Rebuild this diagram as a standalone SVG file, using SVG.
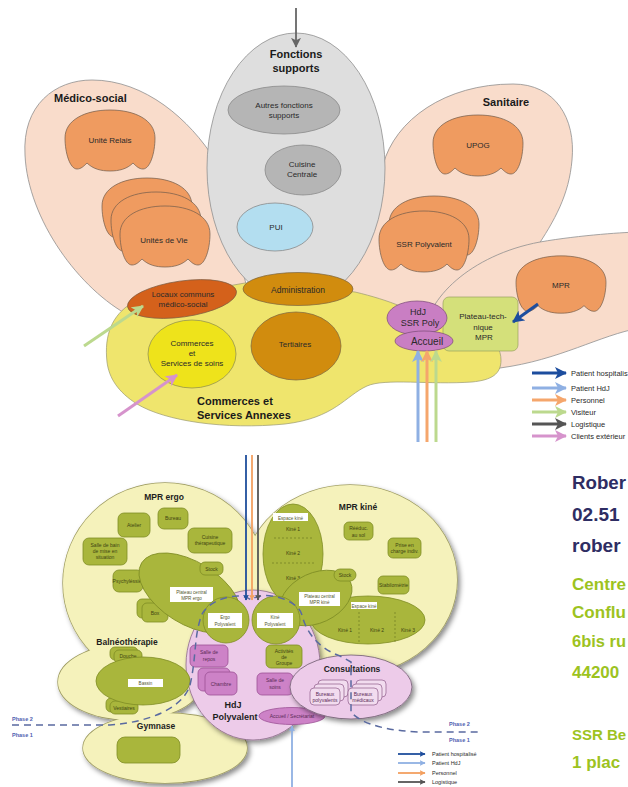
<svg xmlns="http://www.w3.org/2000/svg" width="628" height="787" viewBox="0 0 628 787">
<style>
text{font-family:"Liberation Sans",Arial,sans-serif}
.pe{fill:#f9dccb;stroke:#8f8f8f;stroke-width:.8}
.gr{fill:#dedede;stroke:#8f8f8f;stroke-width:.8}
.gd{fill:#b5b5b5;stroke:#8a8a8a;stroke-width:.8}
.lb{fill:#b3def0;stroke:#8a8a8a;stroke-width:.8}
.cl{fill:#ef9b60;stroke:#6f5a4a;stroke-width:.7}
.ru{fill:#d4611b;stroke:#7a5a40;stroke-width:.7}
.go{fill:#d18c0e;stroke:#7a6440;stroke-width:.7}
.ye{fill:#efe56d;stroke:#9a9a70;stroke-width:.7}
.by{fill:#eee31b;stroke:#8a8a50;stroke-width:.7}
.pu{fill:#c97ec3;stroke:#7a4a76;stroke-width:.7}
.pl{fill:#d4e07a;stroke:#9aa060;stroke-width:.7}
.h{font-weight:bold;font-size:11px;fill:#1a1a1a}
.s{font-size:8px;fill:#2a2a2a;text-anchor:middle}
.lg{font-size:7.5px;fill:#2a2a2a}
.a3{fill:none;stroke-width:3}
.a2{fill:none;stroke-width:1.8}
.pale{fill:#f5f2bb}
.paleS{fill:none;stroke:#9e9c62;stroke-width:1.4}
.ol{fill:#a9b63c;stroke:#7f8d25;stroke-width:.8}
.wl{fill:#ffffff}
.pk{fill:#edcbe9;stroke:#8d6a8a;stroke-width:.8}
.pkd{fill:#cd82c7;stroke:#9c5096;stroke-width:.8}
.bur{fill:#f2dcef;stroke:#9a6a96;stroke-width:.8}
.tt{font-size:5px;fill:#3f4512;text-anchor:middle}
.tw{font-size:4.6px;fill:#555a30;text-anchor:middle}
.tp{font-size:5px;fill:#5a2a55;text-anchor:middle}
.hb{font-weight:bold;font-size:8.5px;fill:#1e1e1e;text-anchor:middle}
.ph{font-weight:bold;font-size:5.5px;fill:#5060b0}
.nv{font-weight:bold;font-size:19px;fill:#2e2d63}
.gn{font-weight:bold;font-size:17px;fill:#9dc31f}
.dk{fill:none;stroke:#6f7d20;stroke-width:.7;stroke-dasharray:2 2}
</style>
<defs>
<path id="cloud" d="M-45,-3 C-45,-21 -25,-31 0,-31 C25,-31 45,-21 45,-3 C45,12 40,28 33,28 C29,28 26,25 23,22 C17,28 9,30 0,30 C-9,30 -17,28 -23,22 C-26,25 -29,28 -33,28 C-40,28 -45,12 -45,-3 Z"/>
<marker id="mDB" viewBox="0 0 12 12" refX="11" refY="6" markerWidth="12" markerHeight="12" markerUnits="userSpaceOnUse" orient="auto"><path d="M0,0 L12,6 L0,12 L3,6 Z" fill="#1c4d9e"/></marker>
<marker id="mLB" viewBox="0 0 12 12" refX="11" refY="6" markerWidth="12" markerHeight="12" markerUnits="userSpaceOnUse" orient="auto"><path d="M0,0 L12,6 L0,12 L3,6 Z" fill="#8fb0e3"/></marker>
<marker id="mOR" viewBox="0 0 12 12" refX="11" refY="6" markerWidth="12" markerHeight="12" markerUnits="userSpaceOnUse" orient="auto"><path d="M0,0 L12,6 L0,12 L3,6 Z" fill="#f5a66c"/></marker>
<marker id="mGN" viewBox="0 0 12 12" refX="11" refY="6" markerWidth="12" markerHeight="12" markerUnits="userSpaceOnUse" orient="auto"><path d="M0,0 L12,6 L0,12 L3,6 Z" fill="#bcd98e"/></marker>
<marker id="mGY" viewBox="0 0 12 12" refX="11" refY="6" markerWidth="12" markerHeight="12" markerUnits="userSpaceOnUse" orient="auto"><path d="M0,0 L12,6 L0,12 L3,6 Z" fill="#555555"/></marker>
<marker id="mPK" viewBox="0 0 12 12" refX="11" refY="6" markerWidth="12" markerHeight="12" markerUnits="userSpaceOnUse" orient="auto"><path d="M0,0 L12,6 L0,12 L3,6 Z" fill="#d693cc"/></marker>
<marker id="mTop" viewBox="0 0 12 12" refX="11" refY="6" markerWidth="10" markerHeight="10" markerUnits="userSpaceOnUse" orient="auto"><path d="M0,0 L12,6 L0,12 L3,6 Z" fill="#666666"/></marker>
<marker id="sDB" viewBox="0 0 10 10" refX="9" refY="5" markerWidth="6" markerHeight="6" markerUnits="userSpaceOnUse" orient="auto"><path d="M0,0 L10,5 L0,10 L2,5 Z" fill="#1f4e9c"/></marker>
<marker id="sLB" viewBox="0 0 10 10" refX="9" refY="5" markerWidth="6" markerHeight="6" markerUnits="userSpaceOnUse" orient="auto"><path d="M0,0 L10,5 L0,10 L2,5 Z" fill="#8fb0e3"/></marker>
<marker id="sOR" viewBox="0 0 10 10" refX="9" refY="5" markerWidth="6" markerHeight="6" markerUnits="userSpaceOnUse" orient="auto"><path d="M0,0 L10,5 L0,10 L2,5 Z" fill="#f3a060"/></marker>
<marker id="sGY" viewBox="0 0 10 10" refX="9" refY="5" markerWidth="6" markerHeight="6" markerUnits="userSpaceOnUse" orient="auto"><path d="M0,0 L10,5 L0,10 L2,5 Z" fill="#555555"/></marker>
<filter id="sh" x="-10%" y="-10%" width="125%" height="125%"><feDropShadow dx="2.5" dy="3" stdDeviation="2.5" flood-color="#000" flood-opacity="0.45"/></filter>
</defs>

<!-- ===== TOP DIAGRAM ===== -->
<g id="medico-social">
<path class="pe" d="M130,316 C80,290 28,220 25,155 C22,105 55,80 92,80 C145,80 190,120 215,160 L250,300 L160,312 Z"/>
<text class="h" x="54" y="102">Médico-social</text>
</g>
<g id="sanitaire">
<path class="pe" d="M383,165 C395,120 445,84 513,84 C555,84 576,118 572,160 C569,195 555,220 535,250 L440,320 L330,300 L340,200 Z"/>
<text class="h" x="506" y="106" text-anchor="middle">Sanitaire</text>
</g>
<g id="fonctions-supports">
<ellipse class="gr" cx="296" cy="168" rx="89" ry="135"/>
<text class="h" x="296" y="58" text-anchor="middle">Fonctions</text>
<text class="h" x="296" y="72" text-anchor="middle">supports</text>
</g>
<g id="autres-fonctions">
<ellipse class="gd" cx="284" cy="110" rx="56" ry="24"/>
<text class="s" x="284" y="108">Autres fonctions</text>
<text class="s" x="284" y="118">supports</text>
</g>
<g id="cuisine-centrale">
<ellipse class="gd" cx="303" cy="170" rx="38" ry="25"/>
<text class="s" x="302" y="167">Cuisine</text>
<text class="s" x="302" y="177">Centrale</text>
</g>
<g id="pui">
<ellipse class="lb" cx="275" cy="227" rx="38" ry="24"/>
<text class="s" x="276" y="230">PUI</text>
</g>
<g id="unite-relais">
<use href="#cloud" class="cl" x="110" y="141"/>
<text class="s" x="110" y="143">Unité Relais</text>
</g>
<g id="unites-de-vie">
<use href="#cloud" class="cl" x="147" y="209"/>
<use href="#cloud" class="cl" x="156" y="223"/>
<use href="#cloud" class="cl" x="165" y="237"/>
<text class="s" x="164" y="243">Unités de Vie</text>
</g>
<g id="upog">
<use href="#cloud" class="cl" x="478" y="146"/>
<text class="s" x="478" y="148">UPOG</text>
</g>
<g id="ssr-polyvalent">
<use href="#cloud" class="cl" x="434" y="227"/>
<use href="#cloud" class="cl" x="424" y="242"/>
<text class="s" x="424" y="247">SSR Polyvalent</text>
</g>
<g id="mpr-zone">
<path class="pe" d="M425,335 C425,300 470,255 540,242 C580,235 628,232 640,232 L640,328 C600,335 560,360 500,368 C460,372 425,360 425,335 Z"/>
</g>
<g id="mpr">
<use href="#cloud" class="cl" transform="translate(561,285) scale(1,0.94)"/>
<text class="s" x="561" y="288">MPR</text>
</g>
<g id="commerces-services-annexes">
<path class="ye" d="M107,362 C104,335 112,315 132,303 L245,283 L355,292 C372,296 388,301 400,306 L445,318 C480,326 501,340 501,360 C501,374 492,380 472,382 C430,385 385,378 367,386 C345,396 335,418 285,424 C225,430 165,421 137,404 C118,392 109,378 107,362 Z"/>
<text class="h" x="197" y="405">Commerces et</text>
<text class="h" x="197" y="419">Services Annexes</text>
</g>
<g id="locaux-communs">
<ellipse class="ru" cx="182" cy="299" rx="55" ry="18" transform="rotate(-8 182 299)"/>
<text class="s" x="183" y="297">Locaux communs</text>
<text class="s" x="183" y="307">médico-social</text>
</g>
<g id="administration">
<ellipse class="go" cx="298" cy="289" rx="55" ry="16.5"/>
<text class="s" x="298" y="292.5" style="font-size:8.5px">Administration</text>
</g>
<g id="commerces-soins">
<ellipse class="by" cx="192" cy="354" rx="44" ry="34"/>
<text class="s" x="192" y="346">Commerces</text>
<text class="s" x="192" y="356">et</text>
<text class="s" x="192" y="366">Services de soins</text>
</g>
<g id="tertiaires">
<ellipse class="go" cx="296" cy="346" rx="45" ry="34"/>
<text class="s" x="295" y="347">Tertiaires</text>
</g>
<g id="plateau-technique">
<rect class="pl" x="443" y="297" width="75" height="54" rx="6"/>
<text class="s" x="483" y="319">Plateau-tech-</text>
<text class="s" x="483" y="330">nique</text>
<text class="s" x="484" y="340">MPR</text>
</g>
<g id="hdj-ssr-poly">
<ellipse class="pu" cx="417" cy="318" rx="30" ry="17"/>
<text class="s" x="418" y="315" style="font-size:9px">HdJ</text>
<text class="s" x="420" y="326" style="font-size:9px">SSR Poly</text>
</g>
<g id="accueil">
<ellipse class="pu" cx="424" cy="341" rx="29" ry="10"/>
<text class="s" x="427" y="344.5" style="font-size:10px">Accueil</text>
</g>

<g id="connectors">
<line class="a2" x1="296" y1="8" x2="296" y2="47" stroke="#666666" stroke-width="2" marker-end="url(#mTop)"/>
<line class="a3" x1="84" y1="346" x2="143" y2="306" stroke="#bcd98e" marker-end="url(#mGN)"/>
<line class="a3" x1="118" y1="416" x2="177" y2="375" stroke="#d693cc" marker-end="url(#mPK)"/>
<line class="a3" x1="538" y1="304" x2="513" y2="322" stroke="#1c4d9e" marker-end="url(#mDB)"/>
<line class="a3" x1="418" y1="442" x2="418" y2="351" stroke="#8fb0e3" stroke-width="2.5" marker-end="url(#mLB)"/>
<line class="a3" x1="427" y1="442" x2="427" y2="351" stroke="#f5a66c" stroke-width="2.5" marker-end="url(#mOR)"/>
<line class="a3" x1="436" y1="442" x2="436" y2="351" stroke="#bcd98e" stroke-width="2.5" marker-end="url(#mGN)"/>
</g>

<g id="legend-top">
<line class="a3" x1="532" y1="373" x2="566" y2="373" stroke="#1c4d9e" marker-end="url(#mDB)"/>
<line class="a3" x1="532" y1="388" x2="566" y2="388" stroke="#8fb0e3" marker-end="url(#mLB)"/>
<line class="a3" x1="532" y1="400" x2="566" y2="400" stroke="#f5a66c" marker-end="url(#mOR)"/>
<line class="a3" x1="532" y1="412" x2="566" y2="412" stroke="#bcd98e" marker-end="url(#mGN)"/>
<line class="a3" x1="532" y1="424" x2="566" y2="424" stroke="#555555" marker-end="url(#mGY)"/>
<line class="a3" x1="532" y1="436" x2="566" y2="436" stroke="#d693cc" marker-end="url(#mPK)"/>
<text class="lg" x="571" y="376">Patient hospitalis</text>
<text class="lg" x="571" y="391">Patient HdJ</text>
<text class="lg" x="571" y="403">Personnel</text>
<text class="lg" x="571" y="415">Visiteur</text>
<text class="lg" x="571" y="427">Logistique</text>
<text class="lg" x="571" y="439">Clients extérieur</text>
</g>

<!-- ===== BOTTOM DIAGRAM ===== -->
<g id="base-zones" filter="url(#sh)">
<ellipse class="paleS" cx="165" cy="583" rx="102" ry="100"/>
<ellipse class="paleS" cx="350" cy="580" rx="107" ry="95"/>
<ellipse class="paleS" cx="130" cy="682" rx="72" ry="38"/>
<ellipse class="paleS" cx="165" cy="748" rx="82" ry="35"/>
<ellipse class="pale" cx="165" cy="583" rx="102" ry="100"/>
<ellipse class="pale" cx="350" cy="580" rx="107" ry="95"/>
<ellipse class="pale" cx="130" cy="682" rx="72" ry="38"/>
<ellipse class="pale" cx="165" cy="748" rx="82" ry="35"/>
</g>
<g id="hdj-polyvalent-zone">
<ellipse class="pk" cx="253" cy="665" rx="67" ry="75" filter="url(#sh)"/>
<text class="hb" x="233" y="708" style="font-size:9px">HdJ</text>
<text class="hb" x="235" y="720" style="font-size:9px">Polyvalent</text>
</g>
<g id="mpr-ergo">
<text class="hb" x="164" y="500">MPR ergo</text>
<g id="atelier"><rect class="ol" x="118" y="513" width="32" height="24" rx="6"/><text class="tt" x="134" y="527">Atelier</text></g>
<g id="bureau"><rect class="ol" x="158" y="508" width="30" height="21" rx="6"/><text class="tt" x="173" y="520">Bureau</text></g>
<g id="cuisine-therapeutique"><rect class="ol" x="188" y="528" width="44" height="25" rx="6"/><text class="tt" x="210" y="539">Cuisine</text><text class="tt" x="210" y="545">thérapeutique</text></g>
<g id="salle-de-bain"><rect class="ol" x="83" y="538" width="44" height="27" rx="6"/><text class="tt" x="105" y="547">Salle de bain</text><text class="tt" x="105" y="553">de mise en</text><text class="tt" x="105" y="559">situation</text></g>
<g id="psy"><rect class="ol" x="113" y="570" width="30" height="22" rx="6"/><text class="tt" x="127" y="583">Psychyléssie</text></g>
<g id="box"><rect class="ol" x="137" y="599" width="26" height="19" rx="5"/><rect class="ol" x="142" y="603" width="26" height="19" rx="5"/><text class="tt" x="155" y="615">Box</text></g>
<g id="plateau-central-ergo"><ellipse class="ol" cx="190" cy="593" rx="57" ry="31" transform="rotate(32 190 593)"/><rect class="wl" x="170" y="587" width="43" height="15"/><text class="tw" x="191.5" y="593.5">Plateau central</text><text class="tw" x="191.5" y="600">MPR ergo</text></g>
<g id="stock-ergo"><rect class="ol" x="200" y="562" width="23" height="13" rx="5"/><text class="tt" x="211.5" y="570.5">Stock</text></g>
</g>
<g id="mpr-kine">
<text class="hb" x="358" y="510">MPR kiné</text>
<g id="espace-kine-1"><ellipse class="ol" cx="293" cy="554" rx="30" ry="50"/><rect class="wl" x="273" y="513" width="35" height="8"/><text class="tw" x="290.5" y="519.5">Espace kiné</text>
<text class="tt" x="293" y="531">Kiné 1</text><text class="tt" x="293" y="555">Kiné 2</text><text class="tt" x="293" y="580">Kiné 3</text>
<line class="dk" x1="274" y1="538" x2="312" y2="538"/><line class="dk" x1="272" y1="563" x2="314" y2="563"/></g>
<g id="reeduc"><rect class="ol" x="344" y="522" width="29" height="18" rx="5"/><text class="tt" x="358.5" y="530">Rééduc.</text><text class="tt" x="358.5" y="536.5">au sol</text></g>
<g id="prise-en-charge"><rect class="ol" x="388" y="538" width="33" height="20" rx="5"/><text class="tt" x="404.5" y="546.5">Prise en</text><text class="tt" x="404.5" y="553">charge indiv.</text></g>
<g id="stabilometrie"><rect class="ol" x="378" y="576" width="31" height="18" rx="5"/><text class="tt" x="393.5" y="587">Stabilométrie</text></g>
<g id="espace-kine-2"><ellipse class="ol" cx="368" cy="620" rx="57" ry="24"/><rect class="wl" x="351" y="602" width="26" height="7"/><text class="tw" x="364" y="607.5">Espace kiné</text>
<text class="tt" x="345" y="632">Kiné 1</text><text class="tt" x="377" y="632">Kiné 2</text><text class="tt" x="408" y="632">Kiné 3</text>
<line class="dk" x1="359" y1="612" x2="359" y2="644"/><line class="dk" x1="395" y1="612" x2="395" y2="644"/></g>
<g id="plateau-central-kine"><ellipse class="ol" cx="316" cy="598" rx="38" ry="25" transform="rotate(-25 316 598)"/><rect class="wl" x="299" y="592" width="41" height="14"/><text class="tw" x="319.5" y="598">Plateau central</text><text class="tw" x="319.5" y="604">MPR kiné</text></g>
<g id="stock-kine"><rect class="ol" x="334" y="569" width="22" height="12" rx="6"/><text class="tt" x="345" y="577">Stock</text></g>
</g>
<g id="balneotherapie">
<text class="hb" x="127" y="645">Balnéothérapie</text>
<g id="douche"><rect class="ol" x="110" y="647" width="28" height="13" rx="5"/><rect class="ol" x="114" y="650" width="28" height="13" rx="5"/><text class="tt" x="128" y="658">Douche</text></g>
<g id="vestiaires"><rect class="ol" x="106" y="698" width="28" height="14" rx="5"/><rect class="ol" x="110" y="701" width="28" height="13" rx="5"/><text class="tt" x="124" y="710">Vestiaires</text></g>
<g id="bassin"><ellipse class="ol" cx="143" cy="681" rx="47" ry="24"/><rect class="wl" x="128" y="679" width="35" height="8"/><text class="tw" x="145.5" y="685">Bassin</text></g>
</g>
<g id="gymnase">
<text class="hb" x="156" y="729">Gymnase</text>
<rect class="ol" x="117" y="737" width="63" height="26" rx="8"/>
</g>
<g id="ergo-polyvalent"><circle class="ol" cx="226" cy="620" r="23"/><rect class="wl" x="208" y="613" width="34" height="15"/><text class="tw" x="225" y="619">Ergo</text><text class="tw" x="225" y="625.5">Polyvalent</text></g>
<g id="kine-polyvalent"><circle class="ol" cx="276" cy="620" r="24"/><rect class="wl" x="257" y="613" width="36" height="15"/><text class="tw" x="275" y="619">Kiné</text><text class="tw" x="275" y="625.5">Polyvalent</text></g>
<g id="salle-de-repos"><rect class="pkd" x="190" y="645" width="38" height="22" rx="5"/><text class="tp" x="209" y="654">Salle de</text><text class="tp" x="209" y="661">repos</text></g>
<g id="chambre"><rect class="pkd" x="198" y="668" width="32" height="23" rx="5"/><rect class="pkd" x="205" y="672" width="32" height="23" rx="5"/><text class="tp" x="221" y="686">Chambre</text></g>
<g id="activites-groupe"><rect class="ol" x="266" y="645" width="36" height="23" rx="5"/><text class="tt" x="284" y="652.5">Activités</text><text class="tt" x="284" y="658.5">de</text><text class="tt" x="284" y="664.5">Groupe</text></g>
<g id="salle-de-soins"><rect class="pkd" x="257" y="673" width="36" height="22" rx="5"/><text class="tp" x="275" y="682">Salle de</text><text class="tp" x="275" y="689">soins</text></g>
<g id="accueil-secretariat"><ellipse class="pkd" cx="292" cy="716" rx="33" ry="8.5"/><text class="tp" x="292" y="718">Accueil / Secrétariat</text></g>
<g id="consultations">
<ellipse class="pk" cx="351" cy="687" rx="61" ry="32" filter="url(#sh)" style="stroke:#6f5a6e"/>
<text class="hb" x="352" y="672">Consultations</text>
<g id="bureaux-polyvalents"><rect class="bur" x="318" y="680" width="30" height="17" rx="4"/><rect class="bur" x="314" y="684" width="30" height="17" rx="4"/><rect class="bur" x="310" y="688" width="30" height="17" rx="4"/><text class="tp" x="325" y="696">Bureaux</text><text class="tp" x="325" y="702">polyvalents</text></g>
<g id="bureaux-medicaux"><rect class="bur" x="356" y="680" width="30" height="17" rx="4"/><rect class="bur" x="352" y="684" width="30" height="17" rx="4"/><rect class="bur" x="348" y="688" width="30" height="17" rx="4"/><text class="tp" x="363" y="696">Bureaux</text><text class="tp" x="363" y="702">médicaux</text></g>
</g>

<g id="phases">
<path d="M12,725 L110,725 C150,722 183,708 190,685 C196,660 194,640 200,620 C203,600 240,590 251,600 C262,590 297,598 302,615 C306,632 318,648 340,656 L351,662 L351,712 C362,725 390,731 420,732 L480,732" fill="none" stroke="#5a6aa0" stroke-width="1.5" stroke-dasharray="7 5"/>
<text class="ph" x="12" y="721">Phase 2</text>
<text class="ph" x="12" y="737">Phase 1</text>
<text class="ph" x="449" y="726">Phase 2</text>
<text class="ph" x="449" y="742">Phase 1</text>
</g>

<g id="connectors-bottom">
<line class="a2" x1="246" y1="455" x2="246" y2="600" stroke="#1f4e9c" marker-end="url(#sDB)"/>
<line class="a2" x1="252" y1="455" x2="252" y2="600" stroke="#f3a060" marker-end="url(#sOR)"/>
<line class="a2" x1="258" y1="455" x2="258" y2="600" stroke="#555555" marker-end="url(#sGY)"/>
<line class="a2" x1="292" y1="787" x2="292" y2="726" stroke="#8fb0e3" marker-end="url(#sLB)"/>
</g>

<g id="legend-bottom">
<line class="a2" x1="398" y1="754" x2="425" y2="754" stroke="#1f4e9c" stroke-width="1.5" marker-end="url(#sDB)"/>
<line class="a2" x1="398" y1="763" x2="425" y2="763" stroke="#8fb0e3" stroke-width="1.5" marker-end="url(#sLB)"/>
<line class="a2" x1="398" y1="773" x2="425" y2="773" stroke="#f3a060" stroke-width="1.5" marker-end="url(#sOR)"/>
<line class="a2" x1="398" y1="782" x2="425" y2="782" stroke="#555555" stroke-width="1.5" marker-end="url(#sGY)"/>
<text class="lg" x="432" y="756" style="font-size:5.5px">Patient hospitalisé</text>
<text class="lg" x="432" y="765" style="font-size:5.5px">Patient HdJ</text>
<text class="lg" x="432" y="775" style="font-size:5.5px">Personnel</text>
<text class="lg" x="432" y="784" style="font-size:5.5px">Logistique</text>
</g>

<g id="contact-text">
<text class="nv" x="572" y="489" textLength="54" lengthAdjust="spacingAndGlyphs">Rober</text>
<text class="nv" x="572" y="521">02.51</text>
<text class="nv" x="572" y="552">rober</text>
<text class="gn" x="572" y="590" textLength="54" lengthAdjust="spacingAndGlyphs">Centre</text>
<text class="gn" x="572" y="618" textLength="54" lengthAdjust="spacingAndGlyphs">Conflu</text>
<text class="gn" x="572" y="647" textLength="54" lengthAdjust="spacingAndGlyphs">6bis ru</text>
<text class="gn" x="572" y="678">44200</text>
<text class="gn" x="572" y="740" style="font-size:15px">SSR Be</text>
<text class="gn" x="572" y="768">1 plac</text>
</g>
</svg>
